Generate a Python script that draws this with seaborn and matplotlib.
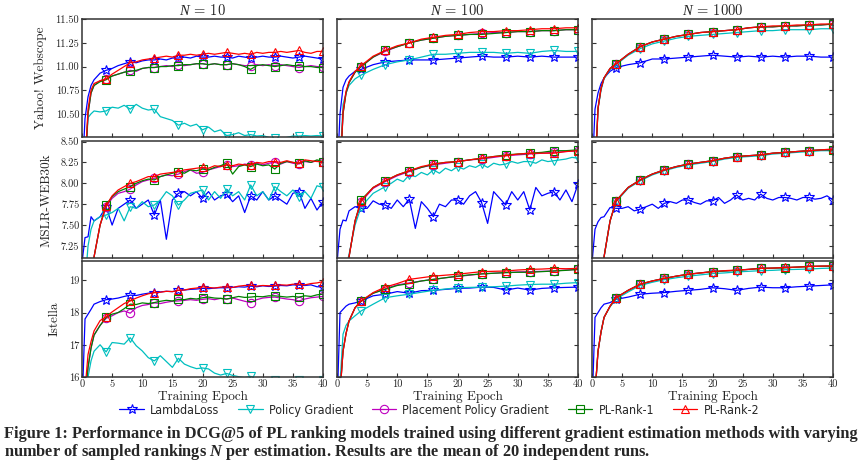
import matplotlib
matplotlib.use("Agg")
import matplotlib.pyplot as plt
from matplotlib.lines import Line2D
import seaborn as sns

# epoch grids (dense one for noisy curves, sparse one for smooth curves)
FINE = [0, 0.5, 1, 1.5, 2] + list(range(3, 41))
COARSE = [0, 0.5, 1, 1.5, 2, 3] + list(range(4, 41, 2))

methods = ['LambdaLoss', 'Policy Gradient', 'Placement Policy Gradient', 'PL-Rank-1', 'PL-Rank-2']
colors = ['#0000ff', '#00bfbf', '#bf00bf', '#008000', '#ff0000']
markers = ['*', 'v', 'o', 's', '^']
datasets = ['Yahoo! Webscope', 'MSLR-WEB30k', 'Istella']
n_values = [10, 100, 1000]

# ---------------- Yahoo! Webscope ----------------
ya10_lambda = [9.8, 10.45, 10.68, 10.8, 10.86,
               10.93, 10.96, 10.98, 11.01, 11.03, 11.05, 11.04, 11.06, 11.07, 11.07,
               11.08, 11.07, 11.09, 11.09, 11.10, 11.09, 11.11, 11.10,
               11.10, 11.11, 11.10, 11.10, 11.09, 11.11, 11.10, 11.09,
               11.10, 11.11, 11.10, 11.10, 11.11, 11.10, 11.09, 11.10,
               11.11, 11.10, 11.09, 11.08]
ya10_pg = [9.8, 9.9, 10.46, 10.50, 10.53,
           10.52, 10.53, 10.57, 10.56, 10.59, 10.55, 10.60, 10.56, 10.54, 10.55,
           10.47, 10.45, 10.43, 10.38, 10.40, 10.37, 10.39, 10.33,
           10.36, 10.31, 10.33, 10.27, 10.28, 10.30, 10.27, 10.28,
           10.265, 10.27, 10.25, 10.24, 10.24, 10.25, 10.265, 10.265,
           10.27, 10.265, 10.27, 10.265]
ya10_ppg = [9.8, 9.9, 10.5, 10.72, 10.8,
            10.85, 10.87, 10.9, 10.92, 10.94, 10.96, 10.95, 10.98, 10.99, 10.99,
            11.0, 11.01, 11.0, 11.02, 11.01, 11.02, 11.03, 11.03,
            11.02, 11.03, 11.02, 11.02, 11.03, 11.02, 11.01, 11.01,
            11.02, 11.01, 11.02, 11.01, 11.02, 11.01, 11.0, 10.99,
            11.0, 11.01, 11.0, 11.0]
ya10_pl1 = [9.8, 9.9, 10.5, 10.72, 10.8,
            10.84, 10.86, 10.9, 10.92, 10.94, 10.95, 10.96, 10.98, 10.99, 10.99,
            11.0, 11.0, 11.01, 11.01, 11.02, 11.02, 11.03, 11.03,
            11.02, 11.03, 11.02, 11.02, 11.03, 11.02, 11.0, 10.97,
            11.01, 11.02, 11.01, 11.0, 11.01, 11.02, 11.01, 11.01,
            11.0, 11.0, 10.99, 10.99]
ya10_pl2 = [9.8, 9.95, 10.55, 10.75, 10.82,
            10.85, 10.87, 10.92, 10.96, 11.0, 11.04, 11.05, 11.07, 11.08, 11.09,
            11.1, 11.11, 11.1, 11.12, 11.12, 11.13, 11.12, 11.13,
            11.14, 11.13, 11.14, 11.15, 11.14, 11.13, 11.14, 11.13,
            11.15, 11.14, 11.15, 11.15, 11.16, 11.15, 11.16, 11.17,
            11.15, 11.14, 11.16, 11.16]

ya100_lambda = [9.8, 10.5, 10.78, 10.86, 10.9, 10.95,
                10.97, 11.02, 11.05, 11.06, 11.07, 11.07, 11.07, 11.08, 11.09, 11.10,
                11.11, 11.10, 11.10, 11.11, 11.10, 11.11, 11.10, 11.10, 11.10]
ya100_pg = [9.8, 9.95, 10.6, 10.72, 10.8, 10.87,
            10.91, 10.97, 11.02, 11.05, 11.07, 11.10, 11.13, 11.13, 11.14, 11.15,
            11.15, 11.15, 11.14, 11.15, 11.14, 11.16, 11.17, 11.16, 11.16]
ya100_ppg = [9.8, 9.85, 10.5, 10.72, 10.83, 10.94,
             11.0, 11.1, 11.16, 11.21, 11.25, 11.28, 11.30, 11.32, 11.33, 11.34,
             11.35, 11.36, 11.36, 11.37, 11.37, 11.38, 11.38, 11.39, 11.39]
ya100_pl1 = [9.8, 9.85, 10.5, 10.72, 10.83, 10.94,
             11.0, 11.1, 11.17, 11.21, 11.25, 11.28, 11.30, 11.32, 11.33, 11.34,
             11.34, 11.35, 11.36, 11.37, 11.37, 11.38, 11.38, 11.39, 11.39]
ya100_pl2 = [9.8, 9.85, 10.52, 10.74, 10.84, 10.95,
             11.01, 11.11, 11.17, 11.22, 11.25, 11.29, 11.31, 11.33, 11.34, 11.36,
             11.37, 11.37, 11.38, 11.38, 11.39, 11.40, 11.40, 11.41, 11.41]

ya1000_lambda = [9.8, 10.55, 10.72, 10.82, 10.88, 10.95,
                 10.99, 11.02, 11.04, 11.08, 11.08, 11.09, 11.10, 11.11, 11.12, 11.11,
                 11.10, 11.11, 11.10, 11.11, 11.10, 11.11, 11.11, 11.10, 11.10]
ya1000_pg = [9.8, 9.85, 10.55, 10.75, 10.87, 10.97,
             11.02, 11.12, 11.19, 11.24, 11.27, 11.30, 11.32, 11.33, 11.34, 11.35,
             11.36, 11.37, 11.38, 11.38, 11.39, 11.39, 11.39, 11.40, 11.40]
ya1000_ppg = [9.8, 9.85, 10.56, 10.77, 10.88, 10.98,
              11.03, 11.13, 11.21, 11.26, 11.29, 11.32, 11.34, 11.36, 11.37, 11.38,
              11.39, 11.41, 11.42, 11.42, 11.43, 11.43, 11.44, 11.44, 11.45]
ya1000_pl1 = [9.8, 9.85, 10.56, 10.77, 10.88, 10.98,
              11.03, 11.13, 11.21, 11.26, 11.29, 11.32, 11.34, 11.36, 11.37, 11.38,
              11.39, 11.41, 11.42, 11.42, 11.43, 11.43, 11.44, 11.44, 11.45]
ya1000_pl2 = [9.8, 9.85, 10.56, 10.77, 10.88, 10.98,
              11.03, 11.13, 11.21, 11.26, 11.29, 11.32, 11.34, 11.36, 11.37, 11.38,
              11.39, 11.41, 11.42, 11.43, 11.43, 11.44, 11.44, 11.45, 11.45]

# ---------------- MSLR-WEB30k ----------------
ms10_lambda = [7.05, 7.35, 7.36, 7.6, 7.55,
               7.6, 7.72, 7.5, 7.7, 7.75, 7.8, 7.7, 7.75, 7.8, 7.62,
               7.8, 7.33, 7.8, 7.88, 7.9, 7.85, 7.9, 7.82,
               7.9, 7.8, 7.85, 7.87, 7.78, 7.85, 7.65, 7.85,
               7.8, 7.9, 7.8, 7.85, 7.8, 7.75, 7.88, 7.9,
               7.7, 7.82, 7.68, 7.78]
ms10_pg = [6.6, 6.8, 7.25, 7.45, 7.55,
           7.6, 7.62, 7.65, 7.7, 7.55, 7.72, 7.7, 7.78, 7.72, 7.74,
           7.8, 7.9, 7.85, 7.74, 7.8, 7.88, 7.9, 7.92,
           7.8, 7.9, 7.82, 7.93, 7.85, 7.9, 7.8, 7.98,
           7.85, 7.9, 7.8, 7.96, 7.9, 7.85, 7.92, 7.84,
           7.9, 7.82, 7.97, 7.95]
ms10_ppg = [6.6, 6.7, 6.8, 6.95, 7.12,
            7.5, 7.72, 7.82, 7.88, 7.9, 7.93, 7.98, 8.02, 8.04, 8.06,
            8.08, 8.1, 8.09, 8.11, 8.14, 8.16, 8.12, 8.13,
            8.16, 8.18, 8.2, 8.22, 8.2, 8.21, 8.23, 8.22,
            8.24, 8.22, 8.24, 8.25, 8.23, 8.26, 8.24, 8.23,
            8.26, 8.25, 8.27, 8.25]
ms10_pl1 = [6.6, 6.7, 6.8, 6.95, 7.12,
            7.5, 7.74, 7.84, 7.9, 7.93, 7.96, 8.0, 8.03, 8.05, 8.04,
            8.08, 8.1, 8.12, 8.14, 8.12, 8.16, 8.15, 8.17,
            8.16, 8.19, 8.21, 8.24, 8.11, 8.2, 8.22, 8.2,
            8.23, 8.21, 8.22, 8.17, 8.24, 8.26, 8.25, 8.24,
            8.27, 8.25, 8.28, 8.26]
ms10_pl2 = [6.6, 6.7, 6.8, 6.95, 7.12,
            7.5, 7.73, 7.85, 7.92, 7.96, 8.0, 8.02, 8.05, 8.08, 8.08,
            8.11, 8.12, 8.13, 8.14, 8.16, 8.17, 8.18, 8.19,
            8.18, 8.21, 8.2, 8.22, 8.21, 8.23, 8.22, 8.22,
            8.25, 8.24, 8.26, 8.26, 8.25, 8.27, 8.25, 8.24,
            8.28, 8.27, 8.26, 8.26]

ms100_lambda = [7.05, 7.45, 7.56, 7.55, 7.67,
                7.72, 7.7, 7.7, 7.79, 7.75, 7.74, 7.7, 7.8, 7.72, 7.81,
                7.46, 7.78, 7.7, 7.6, 7.75, 7.72, 7.8, 7.8,
                7.75, 7.85, 7.9, 7.77, 7.52, 7.9, 7.82, 7.74,
                7.9, 7.8, 7.9, 7.68, 7.95, 7.85, 7.88, 7.9,
                7.8, 7.92, 7.78, 7.99]
ms100_pg = [6.6, 6.7, 6.85, 7.0, 7.15,
            7.5, 7.72, 7.8, 7.88, 7.92, 7.96, 8.0, 8.05, 8.02, 8.1,
            8.08, 8.13, 8.1, 8.16, 8.12, 8.18, 8.15, 8.2,
            8.17, 8.21, 8.19, 8.23, 8.19, 8.24, 8.22, 8.23,
            8.26, 8.24, 8.26, 8.26, 8.24, 8.28, 8.26, 8.27,
            8.28, 8.29, 8.31, 8.3]
ms100_ppg = [6.6, 6.7, 6.8, 6.95, 7.12, 7.55,
             7.78, 7.94, 8.02, 8.09, 8.14, 8.19, 8.22, 8.24, 8.26, 8.28,
             8.29, 8.31, 8.33, 8.34, 8.35, 8.36, 8.37, 8.38, 8.39]
ms100_pl1 = [6.6, 6.7, 6.8, 6.95, 7.12, 7.55,
             7.8, 7.95, 8.03, 8.1, 8.15, 8.19, 8.23, 8.25, 8.26, 8.28,
             8.30, 8.32, 8.34, 8.35, 8.36, 8.37, 8.39, 8.39, 8.40]
ms100_pl2 = [6.6, 6.7, 6.8, 6.95, 7.12, 7.55,
             7.79, 7.95, 8.03, 8.1, 8.15, 8.2, 8.23, 8.25, 8.26, 8.28,
             8.30, 8.32, 8.33, 8.35, 8.36, 8.36, 8.36, 8.38, 8.39]

ms1000_lambda = [7.05, 7.45, 7.54, 7.59, 7.6,
                 7.71, 7.7, 7.7, 7.72, 7.67, 7.69, 7.72, 7.75, 7.7, 7.76,
                 7.78, 7.76, 7.8, 7.8, 7.77, 7.75, 7.79, 7.79,
                 7.83, 7.76, 7.8, 7.86, 7.8, 7.82, 7.8, 7.87,
                 7.82, 7.8, 7.83, 7.83, 7.82, 7.8, 7.83, 7.83,
                 7.81, 7.82, 7.85, 7.8]
ms1000_pg = [6.6, 6.7, 6.8, 6.95, 7.12, 7.55,
             7.78, 7.94, 8.03, 8.1, 8.15, 8.19, 8.22, 8.24, 8.26, 8.29,
             8.31, 8.32, 8.33, 8.35, 8.36, 8.37, 8.38, 8.39, 8.39]
ms1000_ppg = [6.6, 6.7, 6.8, 6.95, 7.12, 7.55,
              7.79, 7.95, 8.04, 8.11, 8.16, 8.2, 8.23, 8.25, 8.27, 8.3,
              8.32, 8.33, 8.34, 8.36, 8.37, 8.38, 8.39, 8.40, 8.40]
ms1000_pl1 = [6.6, 6.7, 6.8, 6.95, 7.12, 7.55,
              7.79, 7.95, 8.04, 8.11, 8.16, 8.2, 8.23, 8.25, 8.27, 8.3,
              8.32, 8.33, 8.34, 8.36, 8.37, 8.38, 8.39, 8.40, 8.40]
ms1000_pl2 = [6.6, 6.7, 6.8, 6.95, 7.12, 7.55,
              7.79, 7.95, 8.04, 8.11, 8.16, 8.2, 8.23, 8.25, 8.27, 8.3,
              8.32, 8.33, 8.34, 8.36, 8.37, 8.38, 8.39, 8.40, 8.41]

# ---------------- Istella ----------------
is10_lambda = [15.0, 17.8, 17.95, 18.1, 18.26,
               18.34, 18.4, 18.42, 18.45, 18.5, 18.54, 18.53, 18.57, 18.6, 18.62,
               18.64, 18.66, 18.65, 18.69, 18.7, 18.72, 18.73, 18.75,
               18.74, 18.76, 18.77, 18.77, 18.78, 18.8, 18.79, 18.82,
               18.8, 18.83, 18.81, 18.82, 18.84, 18.83, 18.86, 18.85,
               18.84, 18.86, 18.8, 18.8]
is10_pg = [15.0, 15.5, 16.0, 16.5, 16.8,
           17.0, 16.78, 17.07, 17.05, 17.02, 17.22, 16.97, 16.81, 16.6, 16.5,
           16.66, 16.48, 16.3, 16.58, 16.4, 16.32, 16.26, 16.28,
           16.25, 16.12, 16.06, 16.11, 16.05, 16.01, 15.98, 16.02,
           15.95, 15.9, 15.9, 15.9, 15.9, 15.9, 15.9, 15.9,
           15.9, 15.9, 15.9, 15.9]
is10_ppg = [15.0, 15.4, 16.3, 16.9, 17.3,
            17.6, 17.82, 17.9, 18.0, 18.05, 17.98, 18.15, 18.22, 18.25, 18.3,
            18.28, 18.32, 18.35, 18.36, 18.38, 18.4, 18.38, 18.41,
            18.43, 18.4, 18.44, 18.42, 18.45, 18.4, 18.35, 18.31,
            18.4, 18.45, 18.47, 18.48, 18.45, 18.42, 18.4, 18.36,
            18.42, 18.46, 18.48, 18.5]
is10_pl1 = [15.0, 15.4, 16.3, 16.9, 17.3,
            17.6, 17.85, 17.95, 18.0, 18.12, 18.26, 18.25, 18.3, 18.28, 18.31,
            18.35, 18.38, 18.36, 18.41, 18.4, 18.44, 18.42, 18.46,
            18.48, 18.45, 18.44, 18.42, 18.46, 18.5, 18.47, 18.48,
            18.5, 18.49, 18.52, 18.52, 18.5, 18.48, 18.5, 18.48,
            18.52, 18.5, 18.55, 18.57]
is10_pl2 = [15.0, 15.6, 16.7, 17.1, 17.43,
            17.75, 17.87, 18.02, 18.15, 18.28, 18.36, 18.45, 18.52, 18.58, 18.62,
            18.63, 18.66, 18.65, 18.69, 18.7, 18.74, 18.76, 18.8,
            18.78, 18.76, 18.79, 18.8, 18.78, 18.82, 18.84, 18.85,
            18.82, 18.84, 18.83, 18.84, 18.86, 18.85, 18.88, 18.88,
            18.86, 18.9, 18.92, 18.96]

is100_lambda = [15.0, 18.0, 18.1, 18.2, 18.26, 18.3,
                18.36, 18.52, 18.57, 18.65, 18.6, 18.68, 18.69, 18.72, 18.75, 18.76,
                18.79, 18.78, 18.7, 18.76, 18.7, 18.75, 18.77, 18.78, 18.79]
is100_pg = [15.0, 15.8, 17.33, 17.6, 17.74, 17.9,
            18.05, 18.26, 18.46, 18.52, 18.57, 18.63, 18.69, 18.73, 18.77, 18.78,
            18.79, 18.8, 18.82, 18.85, 18.87, 18.88, 18.88, 18.91, 18.93]
is100_ppg = [15.0, 15.5, 16.8, 17.35, 17.74, 18.15,
             18.35, 18.6, 18.74, 18.86, 18.92, 18.98, 19.03, 19.08, 19.12, 19.16,
             19.2, 19.22, 19.24, 19.26, 19.27, 19.28, 19.29, 19.32, 19.34]
is100_pl1 = [15.0, 15.5, 16.8, 17.35, 17.74, 18.15,
             18.35, 18.6, 18.72, 18.84, 18.9, 18.98, 19.03, 19.08, 19.13, 19.17,
             19.2, 19.22, 19.24, 19.25, 19.25, 19.27, 19.29, 19.31, 19.34]
is100_pl2 = [15.0, 15.5, 16.8, 17.35, 17.74, 18.15,
             18.36, 18.62, 18.79, 18.9, 19.03, 19.08, 19.13, 19.16, 19.19, 19.23,
             19.27, 19.28, 19.29, 19.32, 19.34, 19.35, 19.37, 19.36, 19.37]

is1000_lambda = [15.0, 17.85, 18.0, 18.15, 18.26, 18.31,
                 18.41, 18.48, 18.57, 18.6, 18.62, 18.66, 18.69, 18.72, 18.77, 18.74,
                 18.69, 18.75, 18.79, 18.77, 18.77, 18.8, 18.82, 18.84, 18.86]
is1000_pg = [15.0, 15.5, 16.8, 17.4, 17.85, 18.18,
             18.42, 18.64, 18.84, 18.94, 19.02, 19.08, 19.13, 19.17, 19.21, 19.23,
             19.26, 19.28, 19.3, 19.31, 19.33, 19.34, 19.35, 19.37, 19.38]
is1000_ppg = [15.0, 15.5, 16.8, 17.4, 17.85, 18.2,
              18.46, 18.69, 18.88, 18.98, 19.06, 19.13, 19.19, 19.23, 19.27, 19.29,
              19.31, 19.34, 19.37, 19.38, 19.39, 19.41, 19.43, 19.44, 19.44]
is1000_pl1 = [15.0, 15.5, 16.8, 17.4, 17.85, 18.2,
              18.46, 18.69, 18.88, 18.98, 19.06, 19.13, 19.19, 19.23, 19.27, 19.29,
              19.31, 19.34, 19.37, 19.38, 19.39, 19.41, 19.43, 19.44, 19.44]
is1000_pl2 = [15.0, 15.5, 16.8, 17.4, 17.85, 18.2,
              18.46, 18.69, 18.88, 18.98, 19.06, 19.13, 19.19, 19.23, 19.27, 19.3,
              19.32, 19.34, 19.37, 19.38, 19.4, 19.41, 19.43, 19.44, 19.45]

# panel table: (row, col) -> series for each method
panels = {
    (0, 0): [ya10_lambda, ya10_pg, ya10_ppg, ya10_pl1, ya10_pl2],
    (0, 1): [ya100_lambda, ya100_pg, ya100_ppg, ya100_pl1, ya100_pl2],
    (0, 2): [ya1000_lambda, ya1000_pg, ya1000_ppg, ya1000_pl1, ya1000_pl2],
    (1, 0): [ms10_lambda, ms10_pg, ms10_ppg, ms10_pl1, ms10_pl2],
    (1, 1): [ms100_lambda, ms100_pg, ms100_ppg, ms100_pl1, ms100_pl2],
    (1, 2): [ms1000_lambda, ms1000_pg, ms1000_ppg, ms1000_pl1, ms1000_pl2],
    (2, 0): [is10_lambda, is10_pg, is10_ppg, is10_pl1, is10_pl2],
    (2, 1): [is100_lambda, is100_pg, is100_ppg, is100_pl1, is100_pl2],
    (2, 2): [is1000_lambda, is1000_pg, is1000_ppg, is1000_pl1, is1000_pl2],
}
ylims = [(10.26, 11.50), (7.10, 8.50), (16.0, 19.6)]
yticks = [[10.5, 10.75, 11.0, 11.25, 11.5],
          [7.25, 7.5, 7.75, 8.0, 8.25, 8.5],
          [16, 17, 18, 19]]
yfmt = ['{:.2f}', '{:.2f}', '{:.0f}']

sns.set_style('ticks')
plt.rcParams['font.family'] = ['cmr10', 'DejaVu Serif']
plt.rcParams['mathtext.fontset'] = 'custom'
plt.rcParams['mathtext.rm'] = 'Liberation Serif'
plt.rcParams['mathtext.it'] = 'Liberation Serif:italic'
plt.rcParams['mathtext.bfit'] = 'Liberation Serif:italic:bold'
plt.rcParams['axes.unicode_minus'] = False

W, H = 868, 469
fig = plt.figure(figsize=(W / 100, H / 100), dpi=100)

col_left = [82, 337, 592]
col_w = 241
rows_px = [(19.3, 136.5), (141.5, 258.5), (261, 377)]


def markidx(xs):
    return [i for i, e in enumerate(xs) if e > 0 and e % 4 == 0]


for (r, c), series in panels.items():
    top, bot = rows_px[r]
    ax = fig.add_axes([col_left[c] / W, 1 - bot / H, col_w / W, (bot - top) / H])
    for m, ys in enumerate(series):
        xs = FINE if len(ys) == len(FINE) else COARSE
        assert len(ys) == len(xs)
        sns.lineplot(x=xs, y=ys, ax=ax, color=colors[m], lw=0.9,
                     marker=markers[m], markevery=markidx(xs),
                     ms=7.5 if markers[m] == '*' else 6, mfc='none',
                     mec=colors[m], mew=0.8, estimator=None, sort=False)
    ax.set_xlim(0, 40)
    ax.set_ylim(*ylims[r])
    ax.set_xticks(range(0, 41, 5))
    ax.set_yticks(yticks[r])
    ax.tick_params(direction='in', length=3, width=0.8, right=True,
                   labelsize=7.5, pad=2, color='#333333')
    if c == 0:
        ax.set_yticklabels([yfmt[r].format(v) for v in yticks[r]])
        ax.set_ylabel(datasets[r], fontsize=9.5, labelpad=6)
    else:
        ax.set_yticklabels([])
    if r == 2:
        ax.set_xlabel('Training Epoch', fontsize=9.5, labelpad=1)
    else:
        ax.set_xticklabels([])
    if r == 0:
        ax.set_title(r'$N$ = %d' % n_values[c], fontsize=10.5, pad=3)
    for sp in ax.spines.values():
        sp.set_color('#333333')
        sp.set_linewidth(1.1)

handles = [Line2D([], [], color=colors[m], marker=markers[m], lw=0.9,
                  ms=7.5 if markers[m] == '*' else 6, mfc='none', mec=colors[m], mew=0.8)
           for m in range(len(methods))]
fig.legend(handles, methods, loc='center', bbox_to_anchor=(0.506, 1 - 410 / H),
           ncol=5, frameon=False, handlelength=2.0, handletextpad=0.5,
           columnspacing=1.5,
           prop={'family': ['Liberation Sans Narrow', 'DejaVu Sans'],
                 'stretch': 'condensed', 'size': 8.9})

cap = dict(fontsize=11.78, fontweight='bold', family=['Liberation Serif'], va='center', ha='left')
fig.text(4 / W, 1 - 434 / H,
         'Figure 1: Performance in DCG@5 of PL ranking models trained using different '
         'gradient estimation methods with varying', **cap)
fig.text(4 / W, 1 - 452 / H,
         r'number of sampled rankings $\mathbfit{N}$ per estimation. Results are the mean of 20 independent runs.',
         **cap)

fig.savefig('out.png', dpi=100)
